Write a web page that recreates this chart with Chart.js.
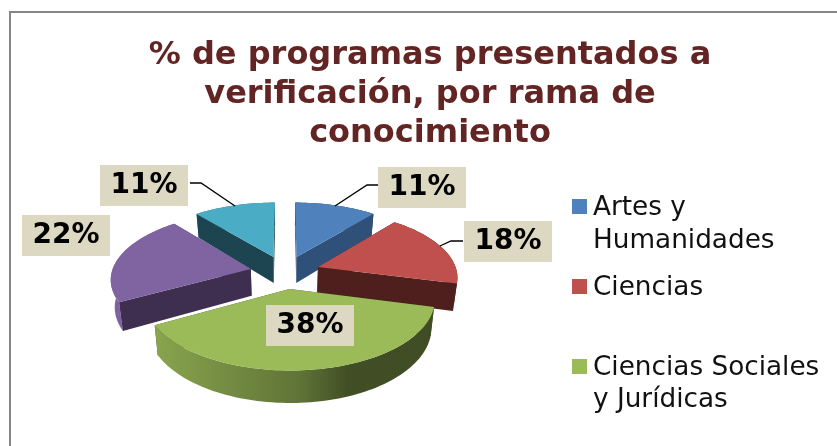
<!DOCTYPE html>
<html>
<head>
<meta charset="utf-8">
<style>
html,body{margin:0;padding:0;background:#fff}
canvas{display:block}
</style>
<script src="https://cdn.jsdelivr.net/npm/chart.js@4"></script>
</head>
<body>
<canvas id="c" width="837" height="446"></canvas>
<script>
const titleLines = ['% de programas presentados a', 'verificación, por rama de', 'conocimiento'];
const categories = ['Artes y Humanidades', 'Ciencias', 'Ciencias Sociales y Jurídicas'];
const legendLines = [['Artes y', 'Humanidades'], ['Ciencias'], ['Ciencias Sociales', 'y Jurídicas']];
const shares = [11, 18, 38, 22, 11];
const topColors = ['#4f81bd', '#c0504d', '#9bbb59', '#8064a2', '#4bacc6'];
const cutColors = ['#2f5079', '#4f1f1d', '#3f4c20', '#3e2e4f', '#1d4551'];

// view settings of the tilted pie
const view = {cx: 285, cy: 272, rx: 139, ry: 65.5, k: 0.135, explode: 0.252, depth: 27, shrink: 0.023};
function project(x, z, h) {
  const s = 1 / (1 - view.k * z);
  const t = h ? 1 - view.shrink : 1;
  return [view.cx + view.rx * x * s * t, view.cy + view.ry * z * s + (h || 0) * s];
}
function mix(hex, f) {
  const n = parseInt(hex.slice(1), 16);
  const c = [n >> 16 & 255, n >> 8 & 255, n & 255].map(v => Math.round(v * f));
  return `rgb(${c[0]},${c[1]},${c[2]})`;
}
function poly(ctx, pts, fill) {
  ctx.beginPath();
  pts.forEach((p, i) => i ? ctx.lineTo(p[0], p[1]) : ctx.moveTo(p[0], p[1]));
  ctx.closePath();
  ctx.fillStyle = fill;
  ctx.fill();
}
function sideGradient(ctx, hex) {
  const L = view.cx - 1.3 * view.rx, R = view.cx + 1.3 * view.rx;
  const g = ctx.createLinearGradient(L, 0, R, 0);
  [[-1.3, 1], [-1.05, 0.97], [-0.9, 0.87], [0.1, 0.62], [0.45, 0.42], [1.3, 0.4]].forEach(s =>
    g.addColorStop((s[0] + 1.3) / 2.6, mix(hex, s[1])));
  return g;
}

const pie3d = {
  id: 'pie3d',
  beforeDatasetDraw(chart) {
    const ctx = chart.ctx;
    const meta = chart.getDatasetMeta(0);
    const slices = meta.data.map((arc, i) => {
      const a0 = arc.startAngle, a1 = arc.endAngle, m = (a0 + a1) / 2;
      const ox = Math.cos(m) * view.explode, oz = Math.sin(m) * view.explode;
      return {i, a0, a1, ox, oz};
    }).sort((p, q) => p.oz - q.oz);
    slices.forEach(sl => {
      const rim = [];
      const n = Math.max(6, Math.ceil((sl.a1 - sl.a0) / 0.03));
      for (let j = 0; j <= n; j++) {
        const a = sl.a0 + (sl.a1 - sl.a0) * j / n;
        rim.push({x: sl.ox + Math.cos(a), z: sl.oz + Math.sin(a)});
      }
      const apex = {x: sl.ox, z: sl.oz};
      const last = rim[rim.length - 1];
      const cut = p => ({
        z: (apex.z + p.z) / 2,
        pts: [project(apex.x, apex.z), project(p.x, p.z), project(p.x, p.z, view.depth), project(apex.x, apex.z, view.depth)],
        fill: cutColors[sl.i]
      });
      const outer = {
        z: rim.reduce((t, p) => t + p.z, 0) / rim.length,
        pts: rim.map(p => project(p.x, p.z)).concat(rim.slice().reverse().map(p => project(p.x, p.z, view.depth))),
        fill: sideGradient(ctx, topColors[sl.i])
      };
      [cut(rim[0]), cut(last), outer].sort((p, r) => p.z - r.z).forEach(t => poly(ctx, t.pts, t.fill));
      poly(ctx, [project(apex.x, apex.z)].concat(rim.map(p => project(p.x, p.z))), topColors[sl.i]);
    });
    return false;
  },
  afterDatasetsDraw(chart) {
    const ctx = chart.ctx;
    // leader lines
    ctx.strokeStyle = '#000';
    ctx.lineWidth = 1.3;
    [[[190, 183], [201, 183], [235, 206]],
     [[378, 185], [367, 185], [335, 206]],
     [[463, 241], [451, 241], [440, 246]]].forEach(l => {
      ctx.beginPath();
      l.forEach((p, i) => i ? ctx.lineTo(p[0], p[1]) : ctx.moveTo(p[0], p[1]));
      ctx.stroke();
    });
    // value labels
    const boxes = [[378, 167], [464, 221], [266, 305], [22, 215], [100, 165]];
    ctx.textAlign = 'center';
    ctx.textBaseline = 'middle';
    ctx.font = 'bold 28px "DejaVu Sans"';
    shares.forEach((v, i) => {
      const [x, y] = boxes[i];
      ctx.fillStyle = '#dcd8c2';
      ctx.fillRect(x, y, 88, 41);
      ctx.fillStyle = '#000';
      ctx.fillText(v + '%', x + 44, y + 21);
    });
    // legend, cut off after the third entry as in the picture
    const swatchY = [199, 279, 359];
    const baseY = [[215, 248], [295], [375, 407]];
    ctx.textAlign = 'left';
    ctx.textBaseline = 'alphabetic';
    ctx.font = '26.3px "DejaVu Sans"';
    categories.forEach((c, i) => {
      ctx.fillStyle = topColors[i];
      ctx.fillRect(572, swatchY[i], 15, 15);
      ctx.fillStyle = '#111';
      legendLines[i].forEach((t, j) => ctx.fillText(t, 593, baseY[i][j]));
    });
  },
  beforeDraw(chart) {
    const ctx = chart.ctx;
    ctx.strokeStyle = '#868686';
    ctx.lineWidth = 2;
    ctx.beginPath();
    ctx.moveTo(10, 446);
    ctx.lineTo(10, 12);
    ctx.lineTo(837, 12);
    ctx.stroke();
  }
};

new Chart(document.getElementById('c'), {
  type: 'pie',
  data: {
    labels: categories,
    datasets: [{data: shares, backgroundColor: topColors, borderWidth: 0}]
  },
  plugins: [pie3d],
  options: {
    responsive: false,
    animation: false,
    layout: {padding: {left: 23, top: 36}},
    plugins: {
      legend: {display: false},
      tooltip: {enabled: false},
      title: {
        display: true,
        text: titleLines,
        color: '#632523',
        font: {family: '"DejaVu Sans"', size: 32, weight: 'bold', lineHeight: 1.22},
        padding: 0
      }
    }
  }
});
</script>
</body>
</html>
